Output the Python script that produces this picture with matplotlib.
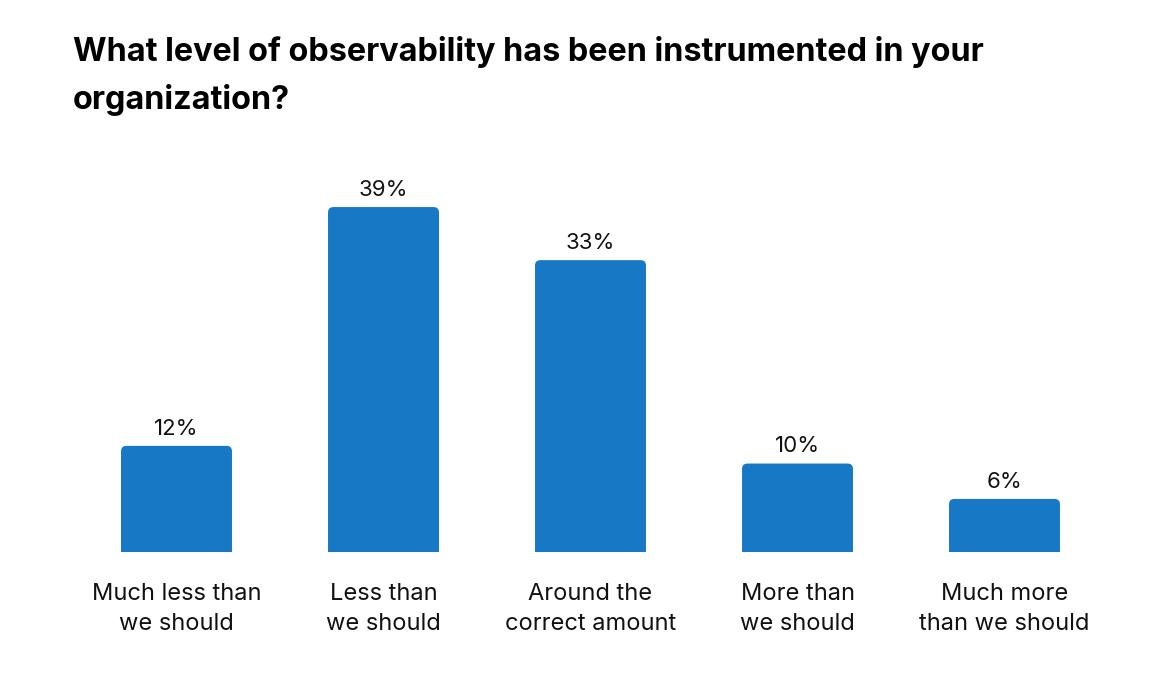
import matplotlib.pyplot as plt
from matplotlib.patches import FancyBboxPatch

plt.rcParams['font.family'] = ['Inter', 'DejaVu Sans']

# Data
categories = ['Much less than\nwe should', 'Less than\nwe should', 'Around the\ncorrect amount',
              'More than\nwe should', 'Much more\nthan we should']
values = [12, 39, 33, 10, 6]
bar_color = '#1778C6'

fig = plt.figure(figsize=(11.56, 6.74), dpi=100)
ax = fig.add_axes([52.3 / 1156, 122 / 674, 1076.4 / 1156, 398 / 674])
ax.set_xlim(-0.6, 4.6)
ax.set_ylim(0, 45)

width = 0.536
aspect = 207 / 8.846  # y-units per x-unit in pixels ratio
for i, v in enumerate(values):
    # rounded top corners; bottom extends below axis and gets clipped
    patch = FancyBboxPatch((i - width / 2, -3), width, v + 3,
                           boxstyle='round,pad=0,rounding_size=0.026',
                           mutation_aspect=aspect,
                           facecolor=bar_color, edgecolor='none')
    ax.add_patch(patch)
    ax.text(i, v + 0.8, f'{v}%', ha='center', va='bottom', fontsize=16, color='#111111')

ax.set_xticks(range(len(categories)))
ax.set_xticklabels(categories, fontsize=17, color='#111111', linespacing=1.5)
ax.tick_params(axis='x', length=0, pad=22)
ax.set_yticks([])
for s in ax.spines.values():
    s.set_visible(False)

fig.text(73 / 1156, 1 - 36 / 674, 'What level of observability has been instrumented in your\norganization?',
         ha='left', va='top', fontsize=23.3, fontweight='bold', color='#000000', linespacing=1.62)

fig.savefig('out.png', dpi=100, facecolor='white')
